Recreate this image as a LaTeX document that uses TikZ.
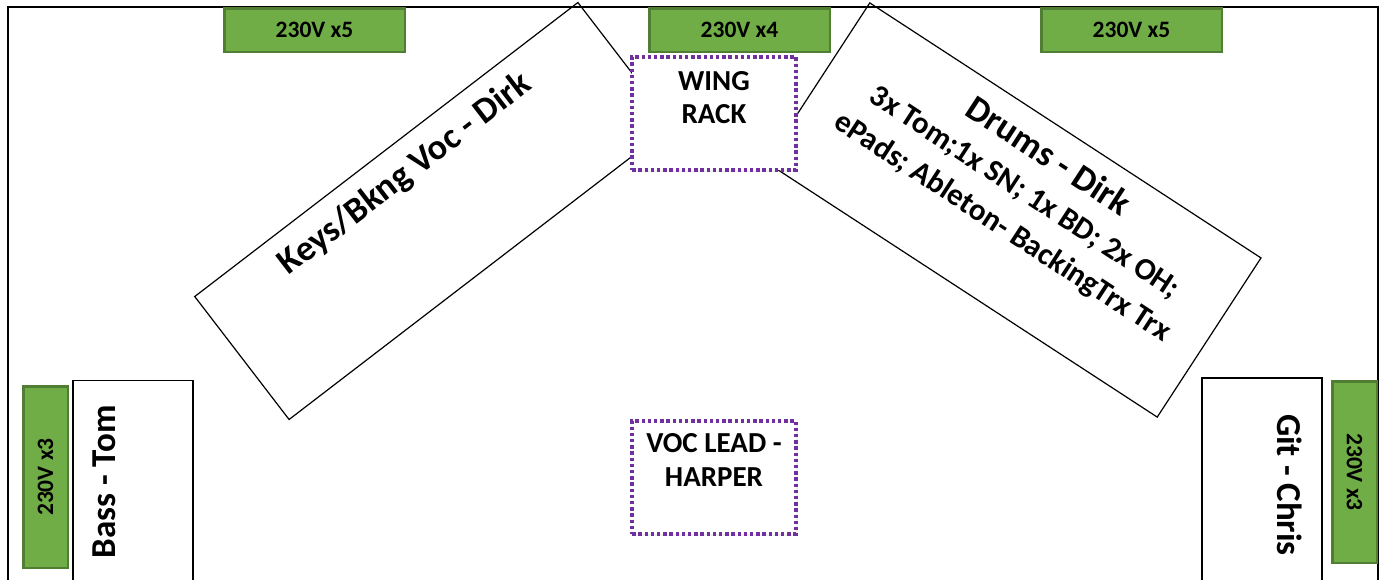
\documentclass[tikz,border=0pt]{standalone}
\usepackage{fontspec}
\setmainfont{Carlito}
\usetikzlibrary{calc,shadows}
\definecolor{pgreen}{HTML}{70AD47}
\definecolor{pgreenline}{HTML}{507E32}
\definecolor{dotpurple}{HTML}{7030A0}
\begin{document}
\begin{tikzpicture}[x=1pt,y=-1pt,
  power/.style={draw=pgreenline, fill=pgreen, line width=2.5pt, inner sep=0pt,
    font=\bfseries\fontsize{23.5}{28}\selectfont},
  zone/.style={draw=black, line width=1.2pt, inner sep=0pt},
  station/.style={draw=dotpurple, fill=white, line width=4pt, dash pattern=on 3.4pt off 2.8pt,
    inner sep=0pt, drop shadow={opacity=0.12, shadow xshift=2pt, shadow yshift=-2pt}},
  title/.style={font=\bfseries\fontsize{36}{43}\selectfont, inner sep=0pt},
  sidetitle/.style={font=\bfseries\fontsize{35}{42}\selectfont, inner sep=0pt},
  stationtext/.style={font=\bfseries\fontsize{29}{33.5}\selectfont, align=center, inner sep=0pt, anchor=north},
]
\useasboundingbox (0,0) rectangle (1382,579);
\clip (0,0) rectangle (1382,579);
% stage outline
\draw[line width=2pt] (7.5,7) rectangle (1377.5,640);

% rotated zones
\node[zone, rotate=37.5, minimum width=483pt, minimum height=155pt] (keys) at (433.5,211) {};
\path (keys.center) -- (keys.north) node[pos=0.59, title, rotate=37.5] (keyst) {Keys/Bkng Voc - Dirk};

\node[zone, rotate=-33.1, minimum width=467pt, minimum height=190pt] (drums) at (1013.5,210) {};
\path (drums.center) -- (drums.north) node[pos=0.23, rotate=-33.1, align=center, inner sep=0pt,
  font=\bfseries\fontsize{31}{41}\selectfont] (drumst)
  {{\fontsize{36}{41}\selectfont Drums - Dirk}\\
   3x Tom;1x SN; 1x BD; 2x OH;\\
   ePads; Ableton- BackingTrx Trx};

% side zones
\node[zone, rotate=90, minimum width=240pt, minimum height=120pt] (bass) at (133,500.5) {};
\node[sidetitle, rotate=90] (basst) at (104.5,482) {Bass - Tom};
\node[zone, rotate=-90, minimum width=242pt, minimum height=120pt] (git) at (1262,499) {};
\node[sidetitle, rotate=-90] (gitt) at (1290,485) {Git - Chris};

% power
\node[power, minimum width=180.5pt, minimum height=43.5pt] (p1) at (314.5,30) {230V x5};
\node[power, minimum width=180.5pt, minimum height=43.5pt] (p2) at (739.5,30) {230V x4};
\node[power, minimum width=180.5pt, minimum height=43.5pt] (p3) at (1131.5,30) {230V x5};
\node[power, rotate=90, minimum width=181.5pt, minimum height=44.5pt] (p4) at (45.5,477) {230V x3};
\node[power, rotate=-90, minimum width=181.5pt, minimum height=44.5pt] (p5) at (1354.5,472) {230V x3};

% stations
\node[station, minimum width=163.5pt, minimum height=113.5pt] (rack) at (714,113.3) {};
\node[stationtext] (rackt) at ($(rack.north)+(0,16.5)$) {WING\\RACK};
\node[station, minimum width=163.5pt, minimum height=113.5pt] (voc) at (714,477.5) {};
\node[stationtext] (voct) at ($(voc.north)+(0,14.8)$) {VOC LEAD -\\HARPER};
\end{tikzpicture}
\end{document}
